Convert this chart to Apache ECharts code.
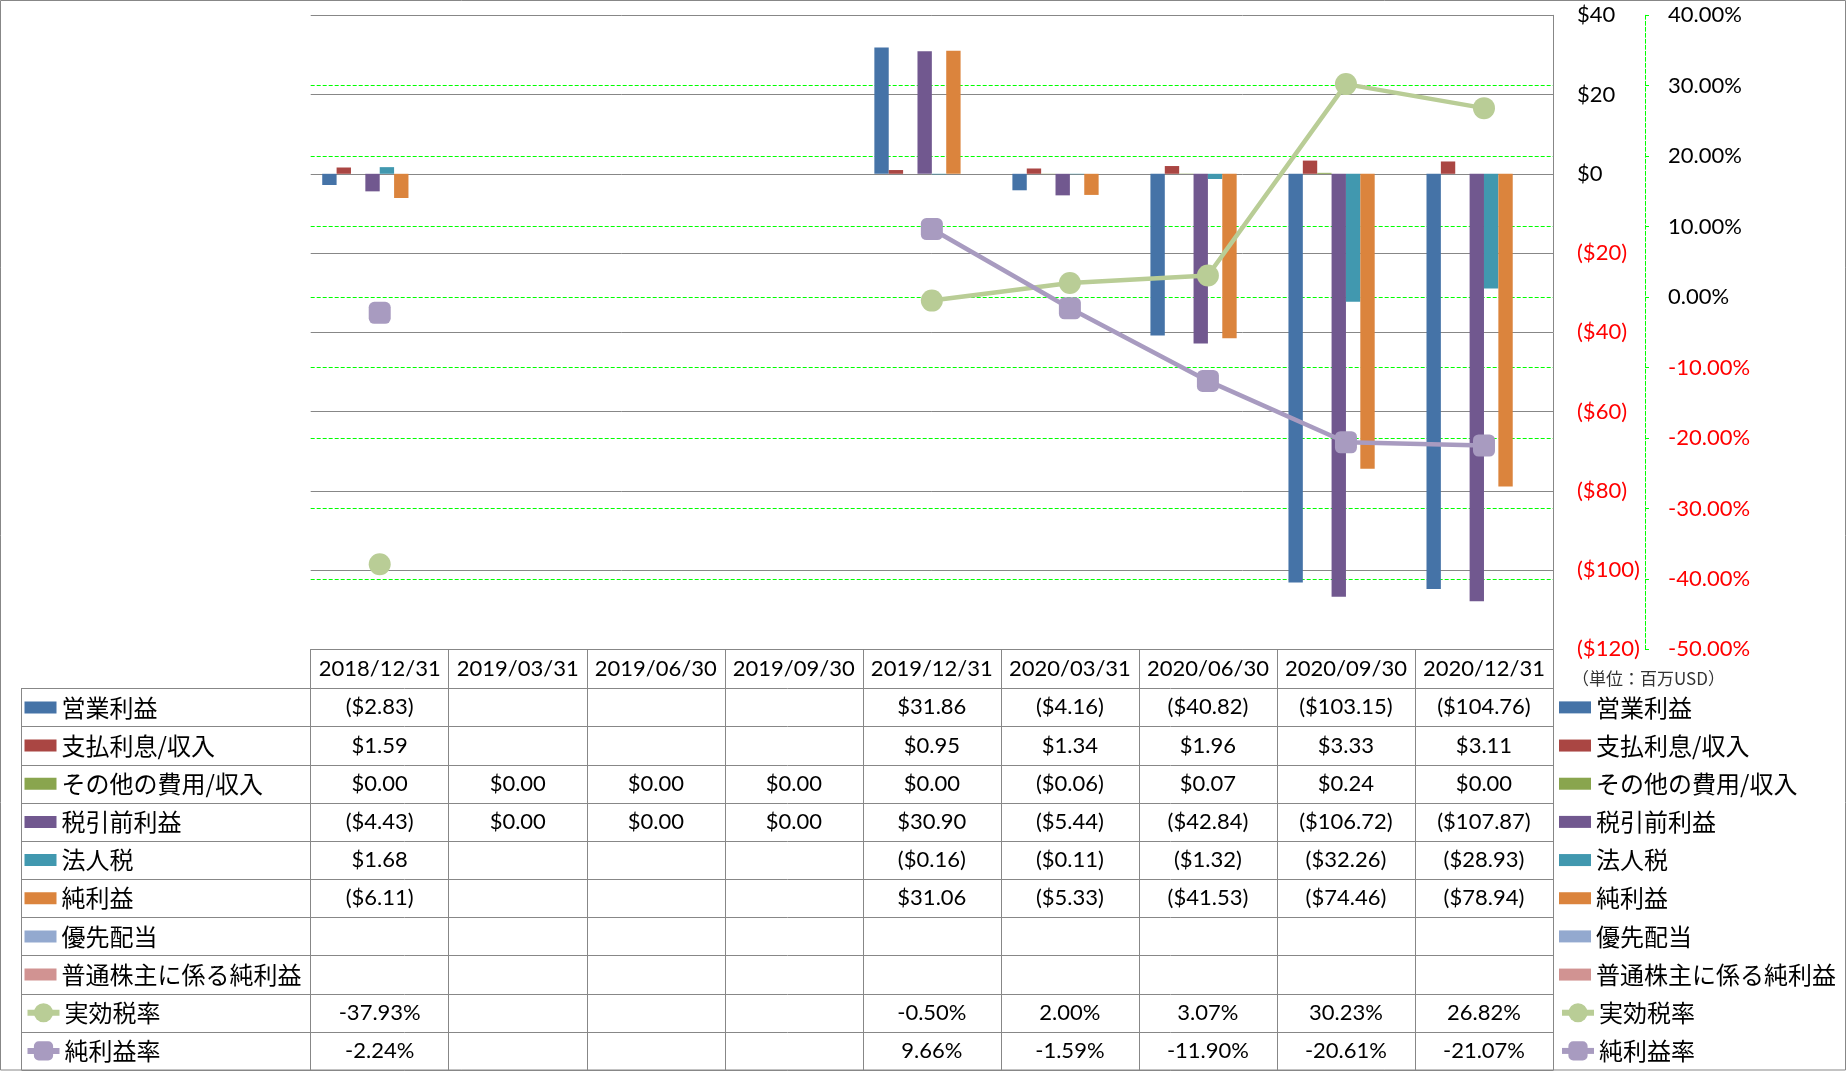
<!DOCTYPE html>
<html><head><meta charset="utf-8">
<script src="https://cdn.jsdelivr.net/npm/echarts@6/dist/echarts.min.js"></script>
<style>html,body{margin:0;padding:0;background:#fff}#c{width:1847px;height:1071px}</style>
</head><body><div id="c"></div>
<script>
// ---------------- data ----------------
const categories = ['2018/12/31','2019/03/31','2019/06/30','2019/09/30','2019/12/31','2020/03/31','2020/06/30','2020/09/30','2020/12/31'];
const operatingIncome   = [-2.83, null, null, null, 31.86, -4.16, -40.82, -103.15, -104.76];
const interestExpense   = [1.59, null, null, null, 0.95, 1.34, 1.96, 3.33, 3.11];
const otherExpense      = [0.00, 0.00, 0.00, 0.00, 0.00, -0.06, 0.07, 0.24, 0.00];
const pretaxIncome      = [-4.43, 0.00, 0.00, 0.00, 30.90, -5.44, -42.84, -106.72, -107.87];
const incomeTax         = [1.68, null, null, null, -0.16, -0.11, -1.32, -32.26, -28.93];
const netIncome         = [-6.11, null, null, null, 31.06, -5.33, -41.53, -74.46, -78.94];
const preferredDividend = [null, null, null, null, null, null, null, null, null];
const netIncomeCommon   = [null, null, null, null, null, null, null, null, null];
const effectiveTaxRate  = [-37.93, null, null, null, -0.50, 2.00, 3.07, 30.23, 26.82];
const netMargin         = [-2.24, null, null, null, 9.66, -1.59, -11.90, -20.61, -21.07];

const barNames  = ['営業利益','支払利息/収入','その他の費用/収入','税引前利益','法人税','純利益','優先配当','普通株主に係る純利益'];
const lineNames = ['実効税率','純利益率'];
const barData   = [operatingIncome, interestExpense, otherExpense, pretaxIncome, incomeTax, netIncome, preferredDividend, netIncomeCommon];
const lineData  = [effectiveTaxRate, netMargin];
const unitText  = '（単位：百万USD）';

// ---------------- style / layout ----------------
const barColors  = ['#4573A7','#AA4643','#89A54E','#71588F','#4198AF','#DB843D','#93A9CF','#D19392'];
const lineColors = ['#B9CD96','#A89BC0'];
const lineSymbols = ['circle','roundRect'];
const GRAY = '#878787';
const GREEN = '#00FF00';
const W = 1847, H = 1071;
const GL = 310.7, GR = 1553, GT = 15.3, GB = 649.3;
const HEAD_BOTTOM = 688.3, ROW = 38.17, TABLE_LEFT = 20.6;
const NUM_FONT = 'Lato';
const NUM_SIZE = 22;
const JP_FONT = '"Noto Sans CJK JP"';

function money(v){ if (v === null || v === undefined) return ''; const s = '$' + Math.abs(v).toFixed(2); return v < 0 ? '(' + s + ')' : s; }
function pct(v){ if (v === null || v === undefined) return ''; return v.toFixed(2) + '%'; }

const rows = barData.map(d => ({data: d, fmt: money})).concat(lineData.map(d => ({data: d, fmt: pct})));

const LABEL_MARGIN = 8, LABEL_LH = 24;
const xAxes = [{
  type: 'category', data: categories, gridIndex: 0, position: 'bottom',
  axisLine: {show: true, onZero: false, lineStyle: {color: GRAY, width: 1}},
  axisTick: {show: true, interval: 0, alignWithLabel: false, length: (H - 1) - GB, lineStyle: {color: GRAY, width: 1}},
  axisLabel: {show: true, interval: 0, margin: LABEL_MARGIN, fontSize: NUM_SIZE, fontFamily: NUM_FONT, color: '#000', lineHeight: LABEL_LH},
  splitLine: {show: false}
}];
rows.forEach((r, k) => {
  const center = HEAD_BOTTOM + ROW * (k + 0.5);
  xAxes.push({
    type: 'category', data: categories, gridIndex: 0, position: 'bottom',
    offset: center - GB - LABEL_MARGIN - LABEL_LH / 2,
    axisLine: {show: false, onZero: false}, axisTick: {show: false}, splitLine: {show: false},
    axisLabel: {show: true, interval: 0, margin: LABEL_MARGIN, fontSize: NUM_SIZE, fontFamily: NUM_FONT, color: '#000', lineHeight: LABEL_LH,
      formatter: (value, index) => r.fmt(r.data[index])}
  });
});

const series = [];
barNames.forEach((n, i) => series.push({
  type: 'bar', name: n, data: barData[i], xAxisIndex: 0, yAxisIndex: 0,
  barGap: '0%', barCategoryGap: '16.7%', itemStyle: {color: barColors[i]}
}));
lineNames.forEach((n, i) => series.push({
  type: 'line', name: n, data: lineData[i], xAxisIndex: 0, yAxisIndex: 1,
  symbol: lineSymbols[i], symbolSize: 22, connectNulls: false, z: 5,
  lineStyle: {color: lineColors[i], width: 4.5}, itemStyle: {color: lineColors[i]}
}));

const legendText = {fontFamily: JP_FONT, fontSize: 24, lineHeight: 24, color: '#000'};
function legendsAt(left){
  return [
    {data: barNames, orient: 'vertical', left: left, top: HEAD_BOTTOM + ROW * 0.5 - 12, itemWidth: 32, itemHeight: 12,
     itemGap: ROW - 24, icon: 'rect', padding: 0, textStyle: legendText},
    {data: lineNames, orient: 'vertical', left: left, top: HEAD_BOTTOM + ROW * 8.5 - 12, itemWidth: 32, itemHeight: 24,
     itemGap: ROW - 24, padding: 0, textStyle: legendText, lineStyle: {width: 6}}
  ];
}

const graphics = [];
graphics.push({type: 'rect', shape: {x: 0.5, y: 0.5, width: W - 2, height: H - 1.5}, style: {fill: 'none', stroke: GRAY, lineWidth: 1}, silent: true, z: 100});
for (let k = 0; k <= rows.length; k++) {
  const y = Math.round(HEAD_BOTTOM + ROW * k) + 0.5;
  graphics.push({type: 'line', shape: {x1: Math.round(TABLE_LEFT) + 0.5, y1: y, x2: GR + 0.5, y2: y}, style: {stroke: GRAY, lineWidth: 1}, silent: true});
}
graphics.push({type: 'line', shape: {x1: Math.round(TABLE_LEFT) + 0.5, y1: Math.round(HEAD_BOTTOM), x2: Math.round(TABLE_LEFT) + 0.5, y2: H - 1}, style: {stroke: GRAY, lineWidth: 1}, silent: true});
graphics.push({type: 'text', x: 1572, y: 678.5, style: {text: unitText, fontFamily: JP_FONT, fontSize: 17, fill: '#333', verticalAlign: 'middle'}, silent: true});

const option = {
  backgroundColor: '#fff',
  animation: false,
  textStyle: {fontFamily: NUM_FONT},
  grid: {left: GL, right: W - GR, top: GT, bottom: H - GB, containLabel: false, outerBoundsMode: 'none'},
  xAxis: xAxes,
  yAxis: [
    {type: 'value', position: 'right', min: -120, max: 40, interval: 20,
     axisLine: {show: true, onZero: false, lineStyle: {color: GRAY, width: 1}}, axisTick: {show: false},
     axisLabel: {margin: 24, fontSize: NUM_SIZE, fontFamily: NUM_FONT, showMinLabel: true, showMaxLabel: true,
       formatter: v => (v < 0 ? '($' + (-v) + ')' : '$' + v),
       color: v => (parseFloat(v) < 0 ? '#FF0000' : '#000')},
     splitLine: {show: true, lineStyle: {color: GRAY, width: 1}}},
    {type: 'value', position: 'right', offset: 92, min: -50, max: 40, interval: 10,
     axisLine: {show: true, onZero: false, lineStyle: {color: GREEN, width: 1, type: [4, 2]}},
     axisTick: {show: true, inside: false, length: 4, lineStyle: {color: GREEN, width: 1}},
     axisLabel: {margin: 23, fontSize: NUM_SIZE, fontFamily: NUM_FONT, showMinLabel: true, showMaxLabel: true,
       formatter: v => v.toFixed(2) + '%',
       color: v => (parseFloat(v) < 0 ? '#FF0000' : '#000')},
     splitLine: {show: true, showMinLine: false, showMaxLine: false, lineStyle: {color: GREEN, width: 1, type: [4, 2]}}}
  ],
  legend: legendsAt(24.5).concat(legendsAt(1559)),
  series: series,
  graphic: graphics
};

const chart = echarts.init(document.getElementById('c'), null, {renderer: 'canvas'});
chart.setOption(option);
</script>
</body></html>
